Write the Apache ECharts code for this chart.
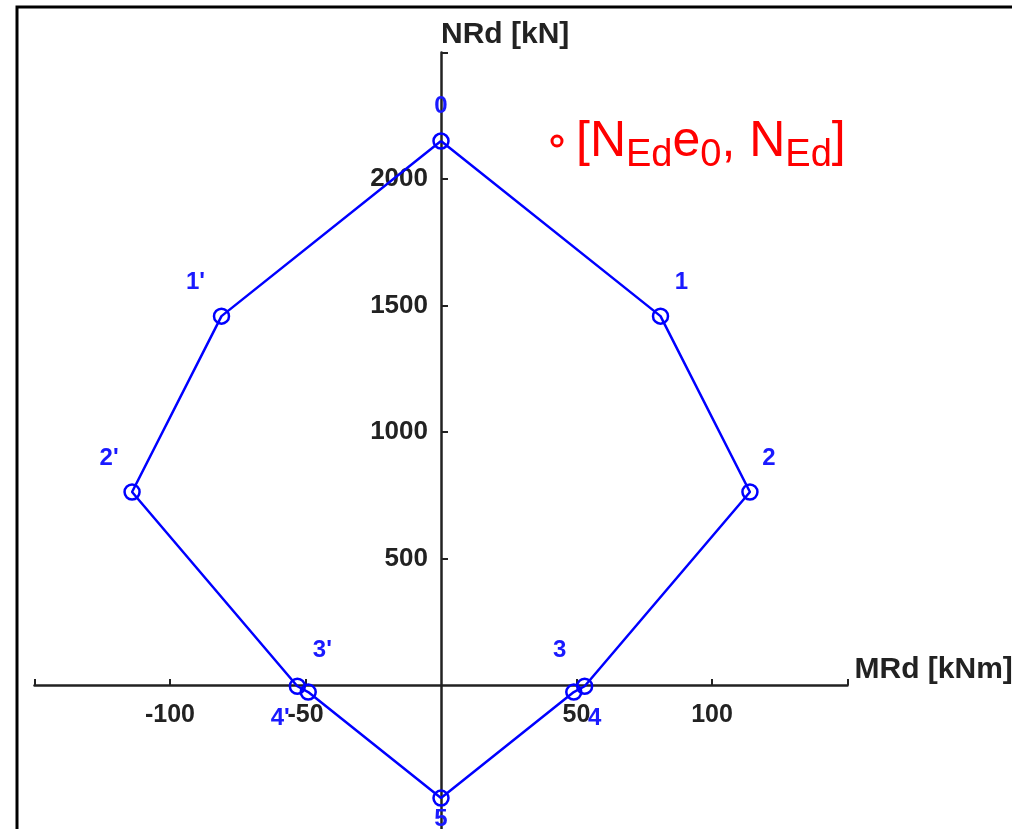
<!DOCTYPE html>
<html>
<head>
<meta charset="utf-8">
<title>N-M interaction diagram</title>
<script src="https://cdn.jsdelivr.net/npm/echarts@6/dist/echarts.min.js"></script>
<style>
  html, body { margin: 0; padding: 0; background: #fff; }
  #chart { width: 1012px; height: 829px; }
</style>
</head>
<body>
<div id="chart"></div>
<script>
// Interaction diagram points (bending resistance MRd in kNm, axial resistance NRd in kN)
const pointNames = ['0', '1', '2', '3', '4', '5', "4'", "3'", "2'", "1'"];
const momentMRd = [0, 81, 114, 53, 49, 0, -49, -53, -114, -81];
const axialNRd = [2150, 1458, 763, -5, -28, -447, -28, -5, 763, 1458];

// Axis ticks and labels
const xTickValues = [-150, -100, -50, 50, 100, 150];
const xLabelValues = [-100, -50, 50, 100];
const yTickValues = [500, 1000, 1500, 2000, 2500];
const yLabelValues = [500, 1000, 1500, 2000];

// Point label placement around each marker (pixels)
const labelOffsets = [
  [0, -35], [21, -34], [19, -34], [-25, -36], [21, 26],
  [0, 21], [-28, 26], [25, -36], [-23, -34], [-26, -34]
];

const FONT = 'Arial, "Liberation Sans", sans-serif';
const BLUE = '#0000ff';
const AXIS_COLOR = '#222222';

// Plot area geometry; the axes cross at the origin, inside the plot area
const GRID = { left: 34.5, top: 52.5, width: 813, height: 784.3 };
const X_MIN = -150, X_MAX = 150, Y_MIN = -600, Y_MAX = 2500;
const originX = GRID.left + (0 - X_MIN) / (X_MAX - X_MIN) * GRID.width;
const originY = GRID.top + (Y_MAX - 0) / (Y_MAX - Y_MIN) * GRID.height;

const plainNumber = v => String(v);

const polygon = pointNames.map((name, i) => ({
  name: name,
  value: [momentMRd[i], axialNRd[i]],
  label: { offset: labelOffsets[i] }
}));
// close the outline back to the first point
polygon.push({
  name: pointNames[0],
  value: [momentMRd[0], axialNRd[0]],
  symbol: 'none',
  label: { show: false }
});

const chart = echarts.init(document.getElementById('chart'), null, { renderer: 'canvas' });

chart.setOption({
  backgroundColor: '#ffffff',
  animation: false,
  grid: {
    left: GRID.left,
    top: GRID.top,
    width: GRID.width,
    height: GRID.height,
    containLabel: false,
    outerBoundsMode: 'none'
  },
  xAxis: {
    type: 'value',
    min: X_MIN,
    max: X_MAX,
    position: 'bottom',
    offset: -(GRID.top + GRID.height - originY),
    name: 'MRd [kNm]',
    nameLocation: 'end',
    nameGap: 7,
    nameTextStyle: {
      fontFamily: FONT, fontSize: 30, fontWeight: 'bold',
      color: AXIS_COLOR, verticalAlign: 'bottom', align: 'left'
    },
    axisLine: { onZero: false, lineStyle: { color: AXIS_COLOR, width: 2.5 } },
    axisTick: { inside: true, length: 6, customValues: xTickValues, lineStyle: { color: AXIS_COLOR, width: 2 } },
    axisLabel: {
      customValues: xLabelValues,
      formatter: plainNumber,
      margin: 18,
      fontFamily: FONT, fontSize: 25, fontWeight: 'bold', color: AXIS_COLOR
    },
    splitLine: { show: false }
  },
  yAxis: {
    type: 'value',
    min: Y_MIN,
    max: Y_MAX,
    position: 'left',
    offset: -(originX - GRID.left),
    name: 'NRd [kN]',
    nameLocation: 'end',
    nameGap: 3,
    nameTextStyle: {
      fontFamily: FONT, fontSize: 30, fontWeight: 'bold',
      color: AXIS_COLOR, align: 'left', verticalAlign: 'bottom'
    },
    axisLine: { onZero: false, lineStyle: { color: AXIS_COLOR, width: 2.5 } },
    axisTick: { inside: true, length: 7, customValues: yTickValues, lineStyle: { color: AXIS_COLOR, width: 2 } },
    axisLabel: {
      customValues: yLabelValues,
      formatter: plainNumber,
      margin: 13,
      fontFamily: FONT, fontSize: 26, fontWeight: 'bold', color: AXIS_COLOR
    },
    splitLine: { show: false }
  },
  series: [{
    type: 'line',
    data: polygon,
    symbol: 'circle',
    symbolSize: 15,
    showAllSymbol: true,
    clip: false,
    lineStyle: { color: BLUE, width: 2.5 },
    itemStyle: { color: 'rgba(0,0,0,0)', borderColor: BLUE, borderWidth: 2.5 },
    label: {
      show: true,
      position: 'inside',
      formatter: '{b}',
      fontFamily: FONT,
      fontSize: 24,
      fontWeight: 'bold',
      color: '#1a1aff'
    },
    emphasis: { disabled: true }
  }],
  graphic: [
    {
      type: 'rect',
      silent: true,
      shape: { x: 17, y: 7, width: 1100, height: 900 },
      style: { fill: 'none', stroke: '#000', lineWidth: 3 }
    },
    {
      type: 'circle',
      silent: true,
      shape: { cx: 557, cy: 141, r: 5 },
      style: { fill: 'none', stroke: '#ff0000', lineWidth: 3 }
    },
    {
      type: 'text',
      silent: true,
      x: 576,
      y: 117,
      style: {
        text: '{m|[N}{s|Ed}{m|e}{s|0}{m|, N}{s|Ed}{m|]}',
        align: 'left',
        verticalAlign: 'top',
        fill: '#ff0000',
        rich: {
          m: { fontFamily: FONT, fontSize: 50, lineHeight: 50, verticalAlign: 'top', fill: '#ff0000' },
          s: { fontFamily: FONT, fontSize: 38, lineHeight: 38, verticalAlign: 'top', padding: [20, 0, 0, 0], fill: '#ff0000' }
        }
      }
    }
  ]
});
</script>
</body>
</html>
